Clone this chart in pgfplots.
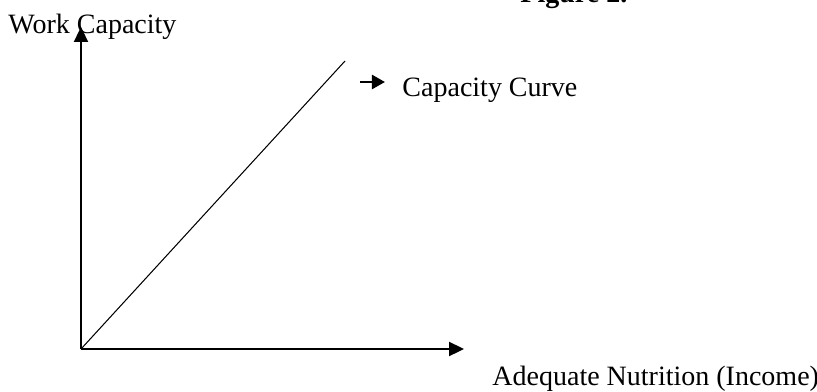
\documentclass[border=0pt]{standalone}
\usepackage{fontspec}
\setmainfont{Liberation Serif}
\usepackage{pgfplots}
\pgfplotsset{compat=1.18}
\usetikzlibrary{arrows.meta}

% one unit = one pixel of the 817x391 reference
\newcommand{\px}{0.42857pt}

\begin{document}
\begin{tikzpicture}[every node/.style={font=\fontsize{12}{14}\selectfont, inner sep=0pt}]
\begin{axis}[
    x=\px, y=\px,
    xmin=81, xmax=464,
    ymin=42, ymax=364,
    axis lines=left,
    axis line style={line width=0.9pt, -{Triangle[length=6.4pt,width=6pt]}},
    xtick=\empty, ytick=\empty,
    clip=false,
]
% capacity curve (straight line from the origin)
\addplot[black, line width=0.45pt] coordinates {(81,42) (345,330)};
% small pointer arrow next to the label
\addplot[black, line width=1.1pt, -{Triangle[length=5.6pt,width=6pt]}]
    coordinates {(360,309) (385,309)};

\node[anchor=base west] at (axis cs:8,358) {Work Capacity};
\node[anchor=base west] at (axis cs:402,295) {Capacity Curve};
\node[anchor=base west] at (axis cs:492,6) {Adequate Nutrition (Income)};
\node[anchor=base west, font=\fontsize{12}{14}\selectfont\bfseries] at (axis cs:520,389) {Figure 2.};

\coordinate (bl) at (axis cs:0,0);
\coordinate (tr) at (axis cs:817,391);
\end{axis}
\pgfresetboundingbox
\useasboundingbox (bl) rectangle (tr);
\end{tikzpicture}
\end{document}
